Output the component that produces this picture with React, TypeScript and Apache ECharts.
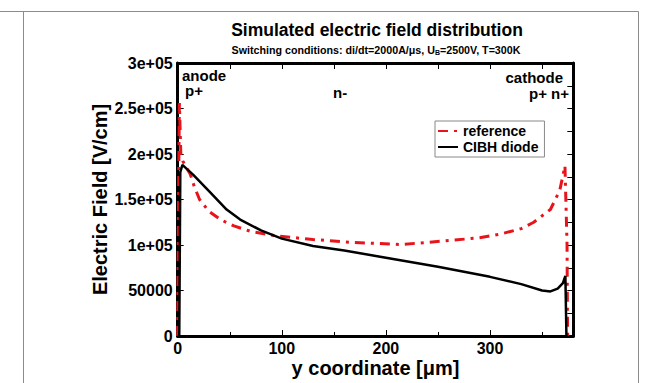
import React, { useEffect, useRef } from 'react';
import * as echarts from 'echarts';

const xTickLabels = ['0', '100', '200', '300'];
const yTickValues = [0, 50000, 100000, 150000, 200000, 250000, 300000];
const yTickLabels = ['0', '50000', '1e+05', '1.5e+05', '2e+05', '2.5e+05', '3e+05'];

const refX = [0, 0.8, 1.6, 3, 5, 8, 12, 16, 21, 30, 41, 54, 70, 95, 130, 166, 214, 262, 290, 310, 330, 342, 358, 367, 372, 374, 374.5];
const refY = [0, 150000, 256000, 200000, 192000, 186000, 178000, 164000, 150000, 137000, 128000, 121000, 115000, 110000, 106000, 103000, 100500, 105000, 108000, 112000, 118000, 125000, 139000, 160000, 187000, 100000, 0];

const cibhX = [0, 1.5, 2.5, 4.5, 15, 31, 47, 60, 80, 100, 130, 160, 200, 250, 300, 330, 350, 358, 365, 370, 372.4, 373.4];
const cibhY = [0, 0, 180000, 188000, 177000, 158000, 139000, 128000, 116000, 107000, 99000, 94000, 86000, 76000, 65000, 57000, 50000, 49000, 52000, 58000, 66000, 0];

const seriesNames = ['reference', 'CIBH diode'];

const FONT = '"Liberation Sans", Arial, Helvetica, sans-serif';

export default function App() {
  const ref = useRef<HTMLDivElement>(null);
  useEffect(() => {
    if (!ref.current) return;
    const chart = echarts.init(ref.current, undefined, { renderer: 'svg' });
    const yLabel = (v: number) => {
      const i = yTickValues.indexOf(v);
      return i >= 0 ? yTickLabels[i] : '';
    };
    const xLabel = (v: number) => {
      const i = Math.round(v / 100);
      return v % 100 === 0 && i < xTickLabels.length ? xTickLabels[i] : '';
    };
    const axisLine = { show: true, onZero: false, lineStyle: { color: '#000', width: 3 } };
    const tick = { show: true, inside: true, length: 6, lineStyle: { color: '#000', width: 1 } };
    const ann = (text: string, x: number, y: number, align: string) => ({
      type: 'text',
      x,
      y,
      style: { text, fontFamily: FONT, fontWeight: 'bold', fontSize: 15, lineHeight: 12, fill: '#000', align, verticalAlign: 'middle' },
    });
    chart.setOption({
      animation: false,
      textStyle: { fontFamily: FONT },
      title: [
        {
          text: 'Simulated electric field distribution',
          left: 372,
          top: 16,
          textAlign: 'center',
          textStyle: { fontFamily: FONT, fontWeight: 'bold', fontSize: 17.5, color: '#000' },
        },
        {
          text: 'Switching conditions: di/dt=2000A/μs, U{sub|B}=2500V, T=300K',
          left: 371,
          top: 38,
          textAlign: 'center',
          textStyle: {
            fontFamily: FONT,
            fontWeight: 'bold',
            fontSize: 10.7,
            color: '#000',
            lineHeight: 13,
            rich: {
              sub: { fontFamily: FONT, fontWeight: 'bold', fontSize: 7, verticalAlign: 'bottom', lineHeight: 7, color: '#000' },
            },
          },
        },
      ],
      legend: {
        orient: 'vertical',
        left: 435,
        top: 121,
        data: seriesNames,
        itemWidth: 20,
        itemHeight: 14,
        itemGap: 2,
        padding: [3, 6, 3, 2],
        borderColor: '#888',
        borderWidth: 1,
        itemStyle: { opacity: 0 },
        textStyle: { fontFamily: FONT, fontWeight: 'bold', fontSize: 14, color: '#000' },
      },
      grid: { left: 177.7, right: 72.7, top: 63, bottom: 45.7, containLabel: false },
      xAxis: [
        {
          type: 'value',
          min: 0,
          max: 380,
          interval: 100,
          position: 'bottom',
          axisLine,
          axisTick: tick,
          minorTick: { show: true, splitNumber: 2, length: 4, lineStyle: { color: '#000', width: 1 } },
          splitLine: { show: false },
          minorSplitLine: { show: false },
          axisLabel: { formatter: xLabel, fontFamily: FONT, fontWeight: 'bold', fontSize: 16, color: '#000', margin: 4, showMaxLabel: false },
          name: 'y coordinate [μm]',
          nameLocation: 'middle',
          nameGap: 22,
          nameMoveOverlap: false,
          nameTextStyle: { fontFamily: FONT, fontWeight: 'bold', fontSize: 20, color: '#000' },
        },
        {
          type: 'value',
          min: 0,
          max: 380,
          interval: 50,
          position: 'top',
          axisLine,
          axisTick: tick,
          splitLine: { show: false },
          axisLabel: { show: false },
        },
      ],
      yAxis: [
        {
          type: 'value',
          min: 0,
          max: 300000,
          interval: 50000,
          position: 'left',
          axisLine,
          axisTick: tick,
          splitLine: { show: false },
          axisLabel: { formatter: yLabel, fontFamily: FONT, fontWeight: 'bold', fontSize: 16, color: '#000', margin: 5 },
          name: 'Electric Field [V/cm]',
          nameLocation: 'middle',
          nameGap: 68,
          nameMoveOverlap: false,
          nameRotate: 90,
          nameTextStyle: { fontFamily: FONT, fontWeight: 'bold', fontSize: 20, color: '#000' },
        },
        {
          type: 'value',
          min: 0,
          max: 300000,
          interval: 25000,
          position: 'right',
          axisLine,
          axisTick: tick,
          splitLine: { show: false },
          axisLabel: { show: false },
        },
      ],
      graphic: [
        { type: 'line', shape: { x1: 0, y1: 11.5, x2: 638.5, y2: 11.5 }, style: { stroke: '#8c8c8c', lineWidth: 1 }, silent: true },
        { type: 'line', shape: { x1: 23.5, y1: 11.5, x2: 23.5, y2: 383 }, style: { stroke: '#8c8c8c', lineWidth: 1 }, silent: true },
        { type: 'line', shape: { x1: 638.5, y1: 11.5, x2: 638.5, y2: 383 }, style: { stroke: '#8c8c8c', lineWidth: 1 }, silent: true },
        ann('anode', 182, 75, 'left'),
        ann('p+', 185, 90.5, 'left'),
        ann('n-', 333, 92, 'left'),
        ann('cathode', 563, 77.5, 'right'),
        ann('p+ n+', 569, 93, 'right'),
      ],
      series: [
        {
          name: seriesNames[0],
          type: 'line',
          data: refX.map((x, i) => [x, refY[i]]),
          showSymbol: false,
          symbol: 'none',
          smooth: false,
          itemStyle: { color: '#e8141c' },
          lineStyle: { color: '#e8141c', width: 3, type: [10, 6, 3, 6] },
          z: 3,
        },
        {
          name: seriesNames[1],
          type: 'line',
          data: cibhX.map((x, i) => [x, cibhY[i]]),
          showSymbol: false,
          symbol: 'none',
          smooth: false,
          itemStyle: { color: '#000' },
          lineStyle: { color: '#000', width: 2.5 },
          z: 4,
        },
      ],
    });
    return () => chart.dispose();
  }, []);
  return <div ref={ref} style={{ position: 'absolute', left: 0, top: 0, width: 646, height: 383 }} />;
}
